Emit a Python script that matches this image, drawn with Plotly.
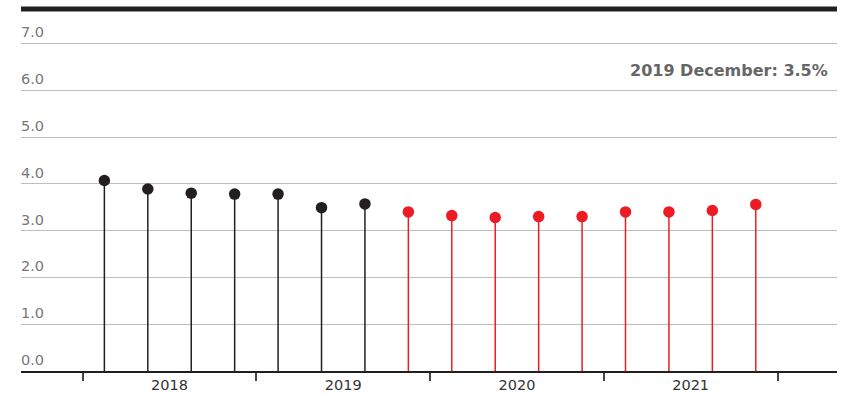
import plotly.graph_objects as go

quarters = ["2018 Q1", "2018 Q2", "2018 Q3", "2018 Q4",
            "2019 Q1", "2019 Q2", "2019 Q3", "2019 Q4",
            "2020 Q1", "2020 Q2", "2020 Q3", "2020 Q4",
            "2021 Q1", "2021 Q2", "2021 Q3", "2021 Q4"]
values = [4.07, 3.89, 3.80, 3.78, 3.78, 3.49, 3.57, 3.40,
          3.32, 3.28, 3.30, 3.30, 3.40, 3.40, 3.43, 3.56]
is_forecast = [False] * 7 + [True] * 9
years = ["2018", "2019", "2020", "2021"]
y_ticks = [0, 1, 2, 3, 4, 5, 6, 7]
note = "2019 December: 3.5%"

BLACK = "#231f20"
RED = "#ed1c24"
FONT = "DejaVu Sans"

xs = list(range(len(quarters)))
fig = go.Figure()

for flag, col in [(False, BLACK), (True, RED)]:
    lx, ly, px, py = [], [], [], []
    for i, v, f in zip(xs, values, is_forecast):
        if f == flag:
            lx += [i, i, None]
            ly += [0, v, None]
            px.append(i)
            py.append(v)
    fig.add_trace(go.Scatter(x=lx, y=ly, mode="lines",
                             line=dict(color=col, width=1.5),
                             hoverinfo="skip", showlegend=False))
    fig.add_trace(go.Scatter(x=px, y=py, mode="markers",
                             marker=dict(color=col, size=11.5, line=dict(width=0)),
                             text=[quarters[i] for i in px],
                             showlegend=False))

year_centers = [1.5 + 4 * k for k in range(len(years))]
boundaries = [-0.5 + 4 * k for k in range(len(years) + 1)]

fig.update_layout(
    width=848, height=398,
    margin=dict(l=21, r=11, t=9, b=27),
    paper_bgcolor="white", plot_bgcolor="white",
    font=dict(family=FONT, color="#333"),
    xaxis=dict(range=[-1.92, 16.87], showgrid=False, zeroline=False,
               automargin=False,
               tickvals=year_centers, ticktext=years, ticks="",
               tickfont=dict(family=FONT, size=14.5, color="#333"),
               showline=True, linecolor=BLACK, linewidth=1.5,
               minor=dict(tickvals=boundaries, ticks="outside", ticklen=8,
                          tickcolor="#444", tickwidth=1.5, showgrid=False)),
    yaxis=dict(range=[0, 7.735], showgrid=True, gridcolor="#bdbdbd",
               automargin=False,
               gridwidth=1, tickvals=y_ticks, showticklabels=False,
               zeroline=False),
)

for t in y_ticks:
    fig.add_annotation(x=0, xref="paper", y=t, yref="y", text=f"{t:.1f}",
                       showarrow=False, xanchor="left", yanchor="bottom",
                       xshift=-2, yshift=1, font=dict(family=FONT, size=14.5, color="#777"))

fig.add_annotation(x=0.991, xref="paper", y=6.43, yref="y", text=f"<b>{note}</b>",
                   showarrow=False, xanchor="right", yanchor="middle",
                   font=dict(family=FONT, size=16, color="#666"))

fig.add_shape(type="line", xref="paper", yref="paper", x0=0, x1=1, y0=1, y1=1,
              line=dict(color=BLACK, width=5))

fig.write_html("out.html")
